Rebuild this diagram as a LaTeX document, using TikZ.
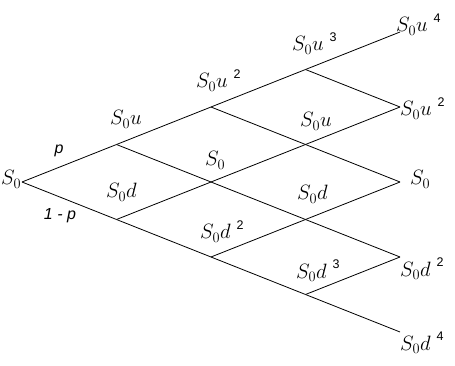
\documentclass[tikz,border=0pt]{standalone}
\usepackage{fontspec}
\newfontfamily\sansf{Liberation Sans}
\newcommand\SzLab[2]{$S_{0}#1$\ifx&#2&\else\hspace{0.3em}\raisebox{0.5em}{\sansf\upshape\fontsize{12.5}{12.5}\selectfont #2}\fi}
\begin{document}
\begin{tikzpicture}[x=1pt,y=-1pt,
  edge/.style={draw=black,line width=0.8pt},
  lab/.style={anchor=base west,inner sep=0pt,font=\fontsize{19.5}{19.5}\selectfont},
  prob/.style={anchor=base,inner sep=0pt,font=\sansf\itshape\fontsize{16}{16}\selectfont}]
\useasboundingbox (0,0) rectangle (455,366);
% vertices
\foreach \i in {0,...,4}{
  \foreach \j in {0,...,\i}{
    \coordinate (n\i\j) at ({22+94.5*\i},{182-37.5*(2*\j-\i)});
  }
}
% edges
\foreach \i/\ni in {0/1,1/2,2/3,3/4}{
  \foreach \j in {0,...,\i}{
    \pgfmathtruncatemacro\jj{\j+1}
    \draw[edge] (n\i\j) -- (n\ni\jj);
    \draw[edge] (n\i\j) -- (n\ni\j);
  }
}
% labels
\node[lab] (l00) at (1,185) {\SzLab{}{}};
\node[prob] (pu) at (59,154) {p};
\node[prob] (pd) at (60,219) {1 - p};
\node[lab] (l11) at (110,125) {\SzLab{u}{}};
\node[lab] (l10) at (106,198) {\SzLab{d}{}};
\node[lab] (l22) at (196,88) {\SzLab{u}{2}};
\node[lab] (l21) at (205,166) {\SzLab{}{}};
\node[lab] (l20) at (200,239) {\SzLab{d}{2}};
\node[lab] (l33) at (292,51) {\SzLab{u}{3}};
\node[lab] (l32) at (300,127) {\SzLab{u}{}};
\node[lab] (l31) at (297,200) {\SzLab{d}{}};
\node[lab] (l30) at (296,278) {\SzLab{d}{3}};
\node[lab] (l44) at (396,32) {\SzLab{u}{4}};
\node[lab] (l43) at (400,116) {\SzLab{u}{2}};
\node[lab] (l42) at (410,185) {\SzLab{}{}};
\node[lab] (l41) at (400,276) {\SzLab{d}{2}};
\node[lab] (l40) at (400,350) {\SzLab{d}{4}};
\end{tikzpicture}
\end{document}
